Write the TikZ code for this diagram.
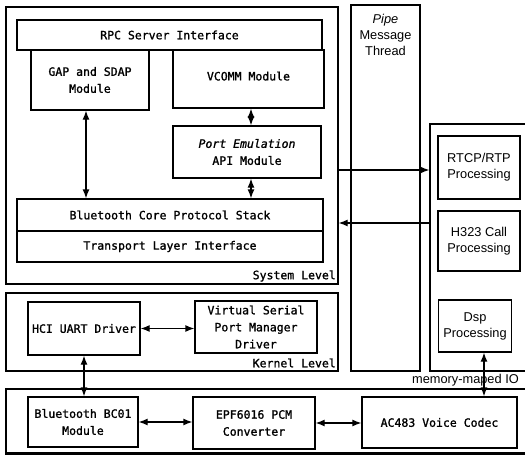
\documentclass[tikz,border=0pt]{standalone}
\usepackage{fontspec}
\setmainfont{Liberation Sans}
\newfontfamily\monofont[FakeBold=1.3]{DejaVu Sans Mono}
\usetikzlibrary{arrows.meta}

\tikzset{
  frame/.style={draw, line width=1.3pt, inner sep=0pt},
  blk/.style={draw, line width=1.3pt, inner sep=0pt, align=center,
    font=\monofont\fontsize{11.5}{17}\selectfont},
  ablk/.style={draw, line width=1.3pt, inner sep=0pt, align=center,
    font=\fontsize{12.8}{16}\selectfont},
  lvl/.style={inner sep=0pt, anchor=east, font=\monofont\fontsize{11.5}{14}\selectfont},
  atxt/.style={inner sep=0pt, align=center, font=\fontsize{12.8}{16}\selectfont},
  tip/.style={Latex[length=9pt,width=7pt]},
  dbl/.style={line width=1.3pt, {Latex[length=9pt,width=7pt]}-{Latex[length=9pt,width=7pt]}},
  one/.style={line width=1.3pt, -{Latex[length=9pt,width=7pt]}},
}

\begin{document}
\begin{tikzpicture}[x=1pt,y=-1pt]
\useasboundingbox (0,0) rectangle (525,460);
\fill[white] (0,0) rectangle (525,460);
\clip (0,0) rectangle (525,460);

% system level
\node[frame, minimum width=332pt, minimum height=277pt] (sys) at (172,145.5) {};
\node[lvl] (syslbl) at (336,276) {System Level};
\node[blk, minimum width=305pt, minimum height=30pt] (rpc) at (169.5,35) {RPC Server Interface};
\node[blk, minimum width=118pt, minimum height=60pt] (gap) at (90,80) {GAP and SDAP\\Module};
\node[blk, minimum width=151pt, minimum height=58pt, text depth=6pt] (vcomm) at (248.5,79) {VCOMM Module};
\node[blk, minimum width=148pt, minimum height=52pt] (port) at (247,152) {\itshape Port Emulation\\API Module};
\node[blk, minimum width=306pt, minimum height=32pt] (bcps) at (170,215) {Bluetooth Core Protocol Stack};
\node[blk, minimum width=306pt, minimum height=31pt] (tli) at (170,246.5) {Transport Layer Interface};

% pipe thread
\node[frame, minimum width=69pt, minimum height=366pt] (pipe) at (385.5,188) {};
\node[atxt] (pipetxt) at (385.5,35) {\itshape Pipe\\Message\\Thread};

% right column
\node[frame, minimum width=98pt, minimum height=247pt] (col) at (479,247.5) {};
\node[ablk, minimum width=82pt, minimum height=63pt] (rtcp) at (479,167.5) {RTCP/RTP\\Processing};
\node[ablk, minimum width=82pt, minimum height=60pt] (h323) at (479,241) {H323 Call\\Processing};
\node[ablk, minimum width=73pt, minimum height=52pt] (dsp) at (475,326) {Dsp\\Processing};
\node[atxt, anchor=east] (mmio) at (519,380) {memory-maped IO};

% kernel level
\node[frame, minimum width=332pt, minimum height=78pt] (kern) at (172,332) {};
\node[lvl] (kernlbl) at (336,363) {Kernel Level};
\node[blk, minimum width=112pt, minimum height=53pt] (hci) at (84,328.5) {HCI UART Driver};
\node[blk, minimum width=122pt, minimum height=52pt] (vsp) at (256,327) {Virtual Serial\\Port Manager\\Driver};

% hardware level
\node[frame, minimum width=524pt, minimum height=64pt] (hw) at (268,421) {};
\draw[line width=2.8pt] (hw.south west) -- (hw.south east);
\node[blk, minimum width=110pt, minimum height=50pt] (bc01) at (83,422) {Bluetooth BC01\\Module};
\node[blk, minimum width=122pt, minimum height=52pt] (epf) at (254,423) {EPF6016 PCM\\Converter};
\node[blk, minimum width=155pt, minimum height=51pt] (ac) at (439.5,422.5) {AC483 Voice Codec};

% connectors
\draw[dbl] ([xshift=-4pt]gap.south) -- ([xshift=-4pt]gap.south |- bcps.north);
\draw[dbl] ([xshift=4pt]port.north) -- ([xshift=4pt]port.north |- vcomm.south);
\draw[dbl] ([xshift=4pt]port.south) -- ([xshift=4pt]port.south |- bcps.north);
\coordinate (rin) at ([yshift=-2.5pt]rtcp.west);
\draw[one] (sys.east |- rin) -- (col.west |- rin);
\coordinate (hin) at ([yshift=18pt]h323.west);
\draw[one] (col.west |- hin) -- (sys.east |- hin);
\draw[dbl] (hci.east) -- (vsp.west |- hci.east);
\draw[dbl] (hci.south) -- (hci.south |- bc01.north);
\draw[dbl] (bc01.east) -- (epf.west |- bc01.east);
\draw[dbl] (epf.east) -- (ac.west |- epf.east);
\draw[dbl] ([xshift=9pt]dsp.south) -- ([xshift=9pt]dsp.south |- ac.north);
\end{tikzpicture}
\end{document}
